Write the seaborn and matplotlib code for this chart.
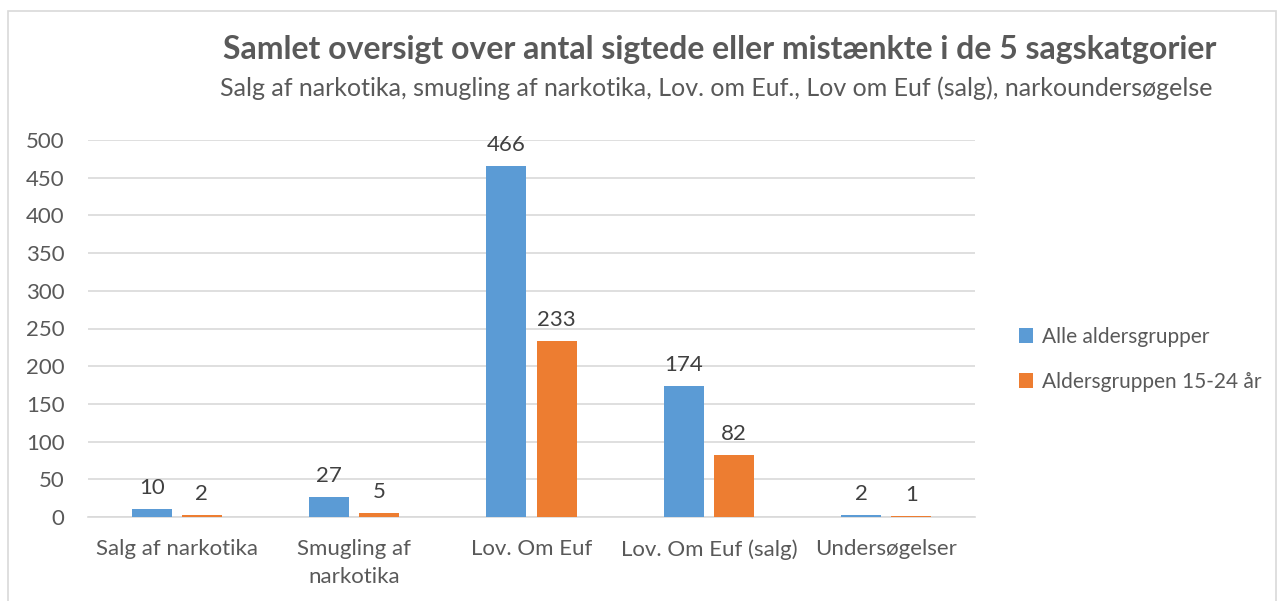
import matplotlib
matplotlib.use("Agg")
import matplotlib.pyplot as plt
import matplotlib.patches as mpatches
import pandas as pd
import seaborn as sns

# data
categories = ["Salg af narkotika", "Smugling af\nnarkotika", "Lov. Om Euf", "Lov. Om Euf (salg)", "Undersøgelser"]
alle = [10, 27, 466, 174, 2]
unge = [2, 5, 233, 82, 1]
series = ["Alle aldersgrupper", "Aldersgruppen 15-24 år"]
colors = ["#5B9BD5", "#ED7D31"]

df = pd.DataFrame({
    "kategori": categories * 2,
    "antal": alle + unge,
    "gruppe": [series[0]] * len(categories) + [series[1]] * len(categories),
})

sns.set_style("white")
plt.rcParams["font.family"] = ["Lato", "DejaVu Sans"]
txt = "#595959"
grid = "#D9D9D9"

fig = plt.figure(figsize=(12.85, 6.01), dpi=100)
fig.patches.append(mpatches.Rectangle((8 / 1285, -0.01), 1268 / 1285, 1 - 11 / 601 + 0.01,
                                      transform=fig.transFigure, fill=False,
                                      edgecolor=grid, linewidth=1.2))
ax = fig.add_axes([88 / 1285, 1 - 517 / 601, 887 / 1285, 377 / 601])

sns.barplot(data=df, x="kategori", y="antal", hue="gruppe", palette=colors,
            saturation=1, linewidth=0, width=0.564, gap=0.2, ax=ax, legend=True, zorder=3)

ax.set_ylim(0, 500)
ax.set_yticks(range(0, 501, 50))
ax.set_xlim(-0.5, len(categories) - 0.5)
ax.yaxis.grid(True, color=grid, linewidth=1.2, zorder=0)
ax.set_axisbelow(True)
for s in ["top", "right", "left"]:
    ax.spines[s].set_visible(False)
ax.spines["bottom"].set_color(grid)
ax.spines["bottom"].set_linewidth(1.2)
ax.tick_params(axis="both", length=0, labelsize=16, colors=txt)
ax.tick_params(axis="y", pad=17)
ax.tick_params(axis="x", pad=16)
for lab in ax.get_xticklabels():
    lab.set_linespacing(1.5)
ax.set_xlabel("")
ax.set_ylabel("")

for cont in ax.containers:
    ax.bar_label(cont, padding=8, fontsize=16, color="#404040")

handles, labels = ax.get_legend_handles_labels()
ax.get_legend().remove()
fig.legend(handles, labels, loc="center left", bbox_to_anchor=(1000 / 1285, 1 - 359 / 601),
           frameon=False, fontsize=15, labelcolor=txt, handlelength=0.7, handleheight=0.7,
           handletextpad=0.4, labelspacing=1.2)

fig.text(720 / 1285, 1 - 50 / 601, "Samlet oversigt over antal sigtede eller mistænkte i de 5 sagskatgorier",
         ha="center", va="center", fontsize=23, fontweight="bold", color=txt)
fig.text(716 / 1285, 1 - 88 / 601,
         "Salg af narkotika, smugling af narkotika, Lov. om Euf., Lov om Euf (salg), narkoundersøgelse",
         ha="center", va="center", fontsize=18, color=txt)

fig.savefig("out.png", dpi=100)
